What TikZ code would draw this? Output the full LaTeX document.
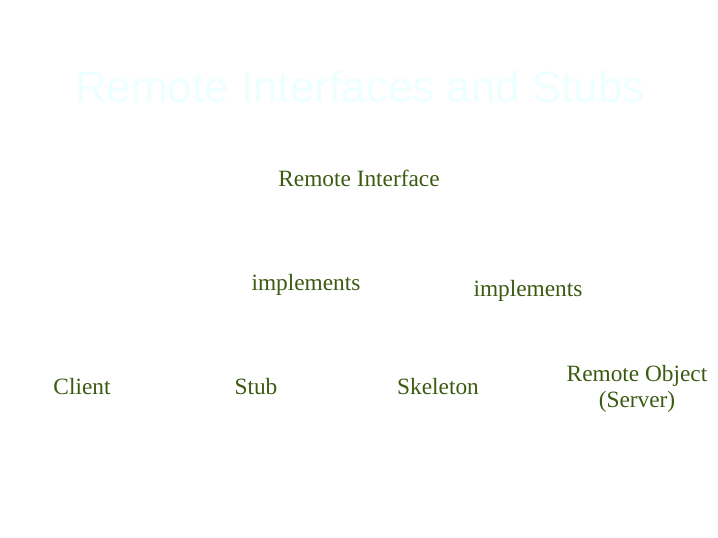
\documentclass[tikz,border=0pt]{standalone}
\usepackage{fontspec}
\setmainfont{Liberation Serif}
\newfontfamily\titlefont{Liberation Sans}
\definecolor{labelgreen}{HTML}{3B5A12}
\definecolor{titlecyan}{HTML}{EEFFFF}

\begin{document}
\begin{tikzpicture}[x=0.75pt,y=-0.75pt,
  lbl/.style={text=labelgreen,font=\fontsize{17.5}{20}\selectfont,align=center,inner sep=0pt}]
\useasboundingbox (0,0) rectangle (718,538);
\node[text=titlecyan,font=\titlefont\fontsize{33}{37}\selectfont] (title) at (360,87) {Remote Interfaces and Stubs};
% The labels
\node[lbl] (iface) at (359,178) {Remote Interface};
\node[lbl] (impl1) at (306,285) {implements};
\node[lbl] (impl2) at (528,291) {implements};
\node[lbl] (client) at (82,387) {Client};
\node[lbl] (stub) at (256,387) {Stub};
\node[lbl] (skel) at (438,387) {Skeleton};
\node[lbl] (server) at (637,389) {Remote Object\\(Server)};
\end{tikzpicture}
\end{document}
